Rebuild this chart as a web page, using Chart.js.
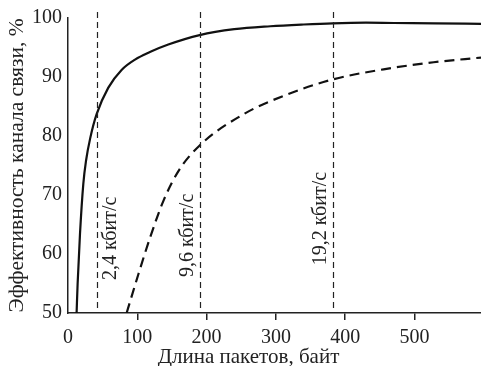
<!DOCTYPE html>
<html>
<head>
<meta charset="utf-8">
<script src="https://cdn.jsdelivr.net/npm/chart.js@4/dist/chart.umd.min.js"></script>
<style>
  html, body { margin: 0; padding: 0; background: #fff; }
</style>
</head>
<body>
<canvas id="myChart" width="481" height="366"></canvas>
<script>
// packet length (bytes) -> channel efficiency (%)
const fastX = [12.4, 13.9, 17.3, 22.1, 26, 32, 41.3, 58.2, 77.3, 96.7, 120.6, 144.7, 190, 240, 292, 340, 382, 430, 470, 530, 596];
const fastY = [50, 55, 63.4, 71.9, 75.8, 79.6, 83.7, 88.2, 91.2, 92.95, 94.35, 95.5, 97.1, 98.1, 98.6, 98.9, 99.1, 99.2, 99.15, 99.1, 99.0];
const slowX = [84.6, 101.9, 118.8, 138, 159.6, 190, 253.4, 311.1, 382.4, 455.4, 527.6, 596];
const slowY = [50, 56.7, 62.9, 69.1, 74.1, 78.4, 83.7, 86.8, 89.6, 91.3, 92.5, 93.3];

const xTicks = [0, 100, 200, 300, 400, 500];
const yTicks = [50, 60, 70, 80, 90, 100];

// transmission rate markers
const rateX = [42, 190, 382];
const rateLabels = ['2,4 кбит/с', '9,6 кбит/с', '19,2 кбит/с'];

const xTitle = 'Длина пакетов, байт';
const yTitle = 'Эффективность канала связи, %';

const FONT = '"Liberation Serif", "Times New Roman", serif';

function toPoints(xs, ys) {
    return xs.map((x, i) => ({ x: x, y: ys[i] }));
}

// dashed verticals, their rotated captions and the x axis title
const markers = {
    id: 'markers',
    afterDatasetsDraw(chart) {
        const ctx = chart.ctx;
        const xs = chart.scales.x;
        const ys = chart.scales.y;
        const area = chart.chartArea;
        // side of the line and bottom end of each caption (in % units)
        const place = [
            { dx: 14, base: 55.6 },
            { dx: -12, base: 56.1 },
            { dx: -12, base: 58.1 }
        ];
        ctx.save();
        ctx.strokeStyle = '#222';
        ctx.lineWidth = 1.2;
        ctx.setLineDash([6, 4]);
        rateX.forEach(function (v) {
            const px = Math.round(xs.getPixelForValue(v)) + 0.5;
            ctx.beginPath();
            ctx.moveTo(px, area.top - 6);
            ctx.lineTo(px, area.bottom);
            ctx.stroke();
        });
        ctx.setLineDash([]);
        ctx.fillStyle = '#222';
        ctx.font = '20px ' + FONT;
        ctx.textAlign = 'left';
        ctx.textBaseline = 'middle';
        rateX.forEach(function (v, i) {
            const px = xs.getPixelForValue(v) + place[i].dx;
            const py = ys.getPixelForValue(place[i].base);
            ctx.save();
            ctx.translate(px, py);
            ctx.rotate(-Math.PI / 2);
            ctx.fillText(rateLabels[i], 0, 0);
            ctx.restore();
        });
        ctx.font = '21px ' + FONT;
        ctx.textAlign = 'center';
        ctx.textBaseline = 'alphabetic';
        ctx.fillText(xTitle, area.left + (area.right - area.left) * 0.437, chart.height - 3);
        ctx.restore();
    }
};

document.addEventListener('DOMContentLoaded', function () {
    const ctx = document.getElementById('myChart').getContext('2d');
    new Chart(ctx, {
        type: 'line',
        data: {
            datasets: [{
                data: toPoints(fastX, fastY),
                borderColor: '#111',
                borderWidth: 2.2,
                pointRadius: 0,
                cubicInterpolationMode: 'monotone',
                fill: false
            }, {
                data: toPoints(slowX, slowY),
                borderColor: '#111',
                borderWidth: 2.2,
                borderDash: [10, 6],
                pointRadius: 0,
                cubicInterpolationMode: 'monotone',
                fill: false
            }]
        },
        options: {
            responsive: false,
            animation: false,
            devicePixelRatio: 1,
            layout: { padding: { top: 16, right: 0, left: 0, bottom: 0 } },
            plugins: {
                legend: { display: false },
                tooltip: { enabled: false }
            },
            scales: {
                x: {
                    type: 'linear',
                    min: 0,
                    max: 596,
                    afterBuildTicks: function (s) { s.ticks = xTicks.map(v => ({ value: v })); },
                    afterFit: function (s) { s.height = 53; },
                    border: { display: true, color: '#222', width: 1.5 },
                    grid: {
                        drawOnChartArea: false,
                        drawTicks: true,
                        tickLength: 7,
                        color: function (c) { return c.tick && c.tick.value === 0 ? 'rgba(0,0,0,0)' : '#222'; },
                        lineWidth: 1.5
                    },
                    ticks: {
                        maxRotation: 0,
                        padding: 6,
                        color: '#222',
                        font: { family: FONT, size: 20 }
                    }
                },
                y: {
                    min: 50,
                    max: 100,
                    afterBuildTicks: function (s) { s.ticks = yTicks.map(v => ({ value: v })); },
                    afterFit: function (s) { s.width = 68; },
                    border: { display: true, color: '#222', width: 1.5 },
                    grid: { drawOnChartArea: false, drawTicks: false },
                    ticks: {
                        padding: 6,
                        color: '#222',
                        font: { family: FONT, size: 20 }
                    },
                    title: {
                        display: true,
                        text: yTitle,
                        color: '#222',
                        padding: { top: 4, bottom: 0 },
                        font: { family: FONT, size: 21.5 }
                    }
                }
            }
        },
        plugins: [markers]
    });
});
</script>
</body>
</html>
